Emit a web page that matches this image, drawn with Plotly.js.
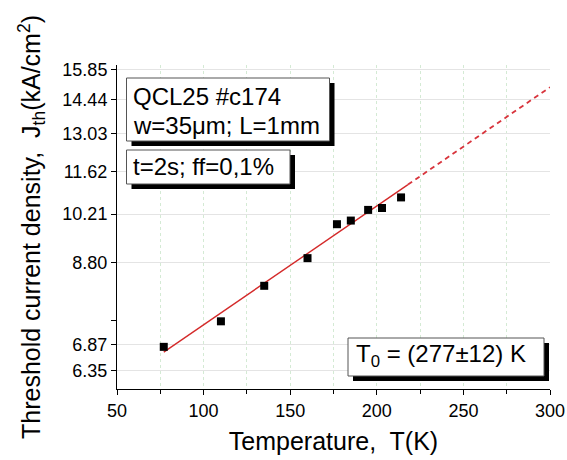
<!DOCTYPE html>
<html>
<head>
<meta charset="utf-8">
<script src="https://cdn.plot.ly/plotly-3.0.1.min.js"></script>
<style>
  html, body { margin: 0; padding: 0; background: #fff; }
  #chart { width: 567px; height: 460px; }
</style>
</head>
<body>
<div id="chart"></div>
<script>
// Measured threshold current density vs. heat-sink temperature
const temperatureK = [77, 110, 135, 160, 177, 185, 195, 203, 214];
const jthKAcm2 = [6.82, 7.37, 8.21, 8.93, 9.90, 10.01, 10.34, 10.40, 10.74];

// Exponential fit J = J0 * exp(T / T0)
const T0 = 277;
const J0 = 5.083;
const fitSolidT = [77, 218];
const fitDashT = [218, 300];

// Axis ticks
const yTickVals = [6.35, 6.87, 8.80, 10.21, 11.62, 13.03, 14.44, 15.85];
const yTickText = ['6.35', '6.87', '8.80', '10.21', '11.62', '13.03', '14.44', '15.85'];
const yMinorTickVals = [7.39];

const fit = T => J0 * Math.exp(T / T0);

const FONT = 'Liberation Sans, Arial, Helvetica, sans-serif';
const W = 567, H = 460;
const M = { l: 117, r: 17, t: 65, b: 71 };
const PW = W - M.l - M.r, PH = H - M.t - M.b;
const px = x => (x - M.l) / PW;
const py = y => (H - M.b - y) / PH;

// Framed text box with a drop shadow (pixel rectangle -> paper coords)
function shadowBox(x0, y0, x1, y1, off) {
  return [
    { type: 'rect', xref: 'paper', yref: 'paper', layer: 'above',
      x0: px(x0 + off), x1: px(x1 + off), y0: py(y1 + off), y1: py(y0 + off),
      fillcolor: '#000', line: { width: 0 } },
    { type: 'rect', xref: 'paper', yref: 'paper', layer: 'above',
      x0: px(x0), x1: px(x1), y0: py(y1), y1: py(y0),
      fillcolor: '#fff', line: { color: '#555', width: 1 } }
  ];
}

function label(text, x, y) {
  return { text: text, xref: 'paper', yref: 'paper', x: px(x), y: py(y),
    xanchor: 'left', yanchor: 'middle', showarrow: false,
    font: { family: FONT, size: 24, color: '#000' } };
}

const traces = [
  { x: fitSolidT, y: fitSolidT.map(fit), mode: 'lines', hoverinfo: 'skip',
    line: { color: '#d42a2a', width: 1.4 } },
  { x: fitDashT, y: fitDashT.map(fit), mode: 'lines', hoverinfo: 'skip',
    line: { color: '#d8343c', width: 1.8, dash: '5px,4px' } },
  { x: temperatureK, y: jthKAcm2, mode: 'markers',
    marker: { symbol: 'square', size: 8, color: '#000' } }
];

const layout = {
  width: W, height: H,
  margin: M,
  showlegend: false,
  paper_bgcolor: '#fff',
  plot_bgcolor: '#fff',
  font: { family: FONT, color: '#000' },
  xaxis: {
    range: [50, 300],
    dtick: 50, tick0: 50,
    ticks: 'outside', ticklen: 5, tickcolor: '#000',
    showline: true, linecolor: '#000', linewidth: 1, mirror: false,
    showgrid: true, gridcolor: '#d4ead4', griddash: 'dot', gridwidth: 1,
    zeroline: false,
    tickfont: { family: FONT, size: 18, color: '#000' },
    minor: { dtick: 25, tick0: 50, ticks: 'outside', ticklen: 4, tickcolor: '#000',
      showgrid: true, gridcolor: '#d4ead4', griddash: 'dot' },
    title: { text: 'Temperature,  T(K)', standoff: 12,
      font: { family: FONT, size: 25, color: '#000' } }
  },
  yaxis: {
    type: 'log',
    range: [Math.log10(6.0), Math.log10(16.06)],
    tickmode: 'array', tickvals: yTickVals, ticktext: yTickText,
    ticks: 'outside', ticklen: 5, tickcolor: '#000',
    showline: true, linecolor: '#000', linewidth: 1, mirror: false,
    showgrid: true, gridcolor: '#e4e4e4', gridwidth: 1,
    zeroline: false,
    tickfont: { family: FONT, size: 18, color: '#000' },
    minor: { tickvals: yMinorTickVals, ticks: 'outside', ticklen: 5, tickcolor: '#000', showgrid: false },
    title: { text: 'Threshold current density,  J<sub>th</sub>(kA/cm<sup>2</sup>)', standoff: 14,
      font: { family: FONT, size: 25, color: '#000' } }
  },
  shapes: [].concat(
    shadowBox(126.5, 78, 329.5, 141, 5),
    shadowBox(126.5, 150, 290, 184, 5),
    shadowBox(348, 338, 544, 376, 5)
  ),
  annotations: [
    label('QCL25 #c174', 131, 96),
    label('w=35μm; L=1mm', 131, 126),
    label('t=2s; ff=0,1%', 131, 166),
    label('T<sub>0</sub> = (277±12) K', 354, 355)
  ]
};

Plotly.newPlot('chart', traces, layout, { staticPlot: true, displayModeBar: false });
</script>
</body>
</html>
